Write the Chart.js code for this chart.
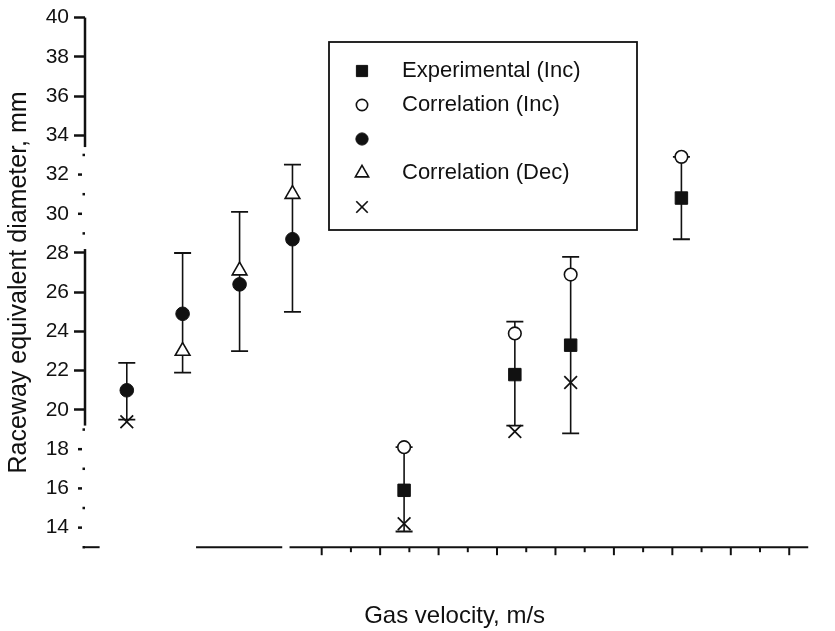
<!DOCTYPE html>
<html>
<head>
<meta charset="utf-8">
<script src="https://cdn.jsdelivr.net/npm/chart.js@4/dist/chart.umd.min.js"></script>
<style>
  html, body { margin: 0; padding: 0; background: #fff; }
  #wrap { width: 835px; height: 631px; position: relative; }
</style>
</head>
<body>
<div id="wrap"><canvas id="chart"></canvas></div>
<script>
// gas velocity of each test group (no tick labels in the original, values are relative)
const velocity = [33.3, 52.4, 71.9, 90, 128.2, 166.1, 185.2, 223.1];

// raceway equivalent diameter, mm
const expInc = [null, null, null, null, 15.9, 21.8, 23.3, 30.8];
const corInc = [null, null, null, null, 18.1, 23.9, 26.9, 32.9];
const expDec = [21.0, 24.9, 26.4, 28.7, null, null, null, null];
const corDec = [null, 23.0, 27.1, 31.0, null, null, null, null];
const corOther = [19.4, null, null, null, 14.2, 18.9, 21.4, null];

const errLow = [19.5, 21.9, 23.0, 25.0, 13.8, 19.2, 18.8, 28.7];
const errHigh = [22.4, 28.0, 30.1, 32.5, 18.1, 24.5, 27.8, 32.9];

const legendLabels = ["Experimental (Inc)", "Correlation (Inc)", "", "Correlation (Dec)", ""];
const yTicks = [14, 16, 18, 20, 22, 24, 26, 28, 30, 32, 34, 36, 38, 40];

// pieces of the scanned axes that survived
const yAxisSolid = [[33.4, 40], [19.2, 28.2]];
const yAxisDotted = [[28.2, 33.4], [13, 19.2]];
const xAxisPieces = [[19, 24], [57, 86.5], [89, 266.5]];

const INK = "#111";
const FONT = "'Liberation Sans', Arial, Helvetica, sans-serif";

const toPoints = (values) =>
  values.map((v, i) => (v == null ? null : { x: velocity[i], y: v })).filter(Boolean);

const errorPoints = [];
velocity.forEach((v, i) => {
  errorPoints.push({ x: v, y: errLow[i] }, { x: v, y: errHigh[i] }, { x: v, y: null });
});

const inGap = (value) => yAxisDotted.some(([a, b]) => value > a && value < b);

const marker = (style, radius, fill, width) => ({
  pointStyle: style,
  pointRadius: radius,
  pointHoverRadius: radius,
  pointBackgroundColor: fill,
  pointBorderColor: INK,
  pointBorderWidth: width,
  showLine: false,
});

const scanAxes = {
  id: "scanAxes",
  afterDraw(chart) {
    const { ctx } = chart;
    const { x, y } = chart.scales;
    const ax = x.left;
    const ay = y.bottom;
    ctx.save();
    ctx.strokeStyle = INK;
    ctx.fillStyle = INK;

    ctx.lineWidth = 2.5;
    for (const [a, b] of yAxisSolid) {
      ctx.beginPath();
      ctx.moveTo(ax, y.getPixelForValue(a));
      ctx.lineTo(ax, y.getPixelForValue(b));
      ctx.stroke();
    }
    for (const [a, b] of yAxisDotted) {
      for (let v = Math.ceil(a); v <= b; v++) {
        const py = y.getPixelForValue(v);
        if (v % 2 === 0) ctx.fillRect(ax - 7, py - 1.2, 4, 2.5);
        else ctx.fillRect(ax - 2.5, py - 1.2, 2.5, 2.5);
      }
    }

    ctx.lineWidth = 2;
    for (const [a, b] of xAxisPieces) {
      ctx.beginPath();
      ctx.moveTo(x.getPixelForValue(a), ay);
      ctx.lineTo(x.getPixelForValue(b), ay);
      ctx.stroke();
    }
    for (let v = 100; v <= 260; v += 10) {
      const px = x.getPixelForValue(v);
      ctx.beginPath();
      ctx.moveTo(px, ay);
      ctx.lineTo(px, ay + (v % 20 === 0 ? 8 : 5));
      ctx.stroke();
    }
    ctx.restore();
  },
};

const boxLegend = {
  id: "boxLegend",
  afterDraw(chart) {
    const { ctx } = chart;
    const box = { x: 329, y: 42, w: 308, h: 188 };
    ctx.save();
    ctx.fillStyle = "#fff";
    ctx.fillRect(box.x, box.y, box.w, box.h);
    ctx.strokeStyle = INK;
    ctx.lineWidth = 1.8;
    ctx.strokeRect(box.x, box.y, box.w, box.h);

    ctx.font = "22px " + FONT;
    ctx.textBaseline = "middle";
    legendLabels.forEach((label, i) => {
      const ds = chart.data.datasets[i];
      const rowY = 71 + i * 34;
      ctx.fillStyle = ds.pointBackgroundColor;
      ctx.strokeStyle = INK;
      ctx.lineWidth = ds.pointBorderWidth;
      Chart.helpers.drawPoint(
        ctx,
        { pointStyle: ds.pointStyle, radius: ds.pointRadius * 0.9, borderWidth: ds.pointBorderWidth, rotation: 0 },
        362,
        rowY
      );
      ctx.fillStyle = INK;
      ctx.fillText(label, 402, rowY);
    });
    ctx.restore();
  },
};

Chart.defaults.font.family = FONT;
Chart.defaults.color = INK;

new Chart(document.getElementById("chart"), {
  type: "scatter",
  data: {
    datasets: [
      { label: legendLabels[0], data: toPoints(expInc), ...marker("rect", 8.8, INK, 1), order: 1 },
      { label: legendLabels[1], data: toPoints(corInc), ...marker("circle", 6.3, "#fff", 1.6), order: 2 },
      { label: legendLabels[2], data: toPoints(expDec), ...marker("circle", 6.8, INK, 1), order: 1 },
      { label: legendLabels[3], data: toPoints(corDec), ...marker("triangle", 8.5, "#fff", 1.6), order: 2 },
      { label: legendLabels[4], data: toPoints(corOther), ...marker("crossRot", 9, INK, 1.7), order: 2 },
      {
        label: "error",
        data: errorPoints,
        showLine: true,
        spanGaps: false,
        borderColor: INK,
        borderWidth: 1.6,
        pointStyle: "line",
        pointRadius: 8.5,
        pointHoverRadius: 8.5,
        pointBorderColor: INK,
        pointBorderWidth: 1.8,
        order: 10,
      },
    ],
  },
  options: {
    responsive: true,
    maintainAspectRatio: false,
    animation: false,
    events: [],
    layout: { padding: { top: 16, right: 0, bottom: 0, left: 0 } },
    plugins: {
      legend: { display: false },
      tooltip: { enabled: false },
    },
    scales: {
      x: {
        type: "linear",
        min: 19,
        max: 272,
        ticks: { display: false },
        grid: { display: false, drawTicks: false },
        border: { display: false },
        title: {
          display: true,
          text: "Gas velocity, m/s",
          font: { size: 24 },
          padding: { top: 55, bottom: 0 },
        },
      },
      y: {
        type: "linear",
        min: 13,
        max: 40,
        afterFit: (scale) => {
          scale.width = 85;
        },
        afterBuildTicks: (scale) => {
          scale.ticks = yTicks.map((value) => ({ value }));
        },
        ticks: { font: { size: 21 }, padding: 5, color: INK },
        grid: {
          drawOnChartArea: false,
          drawTicks: true,
          tickLength: 11,
          tickWidth: 2.5,
          tickColor: (c) => (c.tick && inGap(c.tick.value) ? "rgba(0,0,0,0)" : INK),
        },
        border: { display: false },
        title: {
          display: true,
          text: "Raceway equivalent diameter, mm",
          font: { size: 25 },
          padding: { top: 4, bottom: 0 },
        },
      },
    },
  },
  plugins: [scanAxes, boxLegend],
});
</script>
</body>
</html>
